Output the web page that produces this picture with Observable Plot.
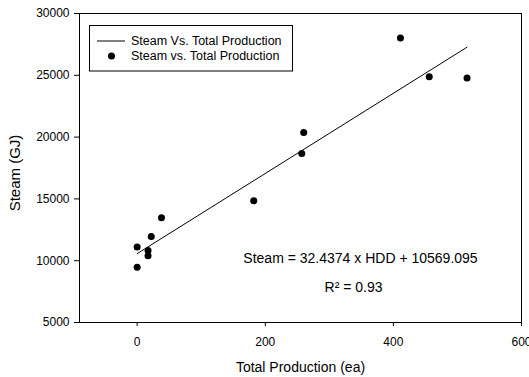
<!DOCTYPE html>
<html>
<head>
<meta charset="utf-8">
<script src="https://cdn.jsdelivr.net/npm/d3@7"></script>
<script src="https://cdn.jsdelivr.net/npm/@observablehq/plot@0.6"></script>
<style>
  html, body { margin: 0; padding: 0; background: white; }
  #chart { width: 529px; height: 377px; }
</style>
</head>
<body>
<div id="chart"></div>
<script>
// Data
const production = [0, 0, 17, 17, 22, 38, 182, 257, 260, 411, 456, 515];
const steam = [9480, 11100, 10830, 10400, 11960, 13480, 14850, 18680, 20380, 28020, 24890, 24780];
// Regression shown on the chart
const slope = 32.4374;
const intercept = 10569.095;
const fitRange = [0, 515];
// Axis ticks
const xTicks = [0, 200, 400, 600];
const yTicks = [5000, 10000, 15000, 20000, 25000, 30000];
// Texts
const xLabel = "Total Production (ea)";
const yLabel = "Steam (GJ)";
const eqLabel = "Steam = 32.4374 x HDD + 10569.095";
const r2Label = "R\u00B2 = 0.93";
const legendLabels = ["Steam Vs. Total Production", "Steam vs. Total Production"];

const points = production.map((p, i) => ({x: p, y: steam[i]}));
const fit = fitRange.map(x => ({x, y: slope * x + intercept}));

const font = "'Liberation Sans', Arial, sans-serif";

const chart = Plot.plot({
  width: 529,
  height: 377,
  marginLeft: 79,
  marginRight: 8,
  marginTop: 13,
  marginBottom: 55,
  style: {fontFamily: font, fontSize: "12px", color: "black", background: "white", overflow: "visible"},
  x: {domain: [-90, 600], ticks: xTicks, tickSize: 4, tickPadding: 11, label: null, tickFormat: d3.format("d")},
  y: {domain: [5000, 30000], ticks: yTicks, tickSize: 5, tickPadding: 5, label: null, tickFormat: d3.format("d")},
  marks: [
    Plot.frame({stroke: "black", strokeWidth: 1}),
    Plot.line(fit, {x: "x", y: "y", stroke: "black", strokeWidth: 1}),
    Plot.dot(points, {x: "x", y: "y", r: 3.5, fill: "black", stroke: "none"}),
    Plot.text([xLabel], {frameAnchor: "bottom", text: d => d, dy: 45, fontSize: 14, lineAnchor: "middle"}),
    Plot.text([yLabel], {frameAnchor: "left", text: d => d, dx: -64, dy: 5, rotate: -90, fontSize: 15, lineAnchor: "middle", textAnchor: "middle"}),
    Plot.text([eqLabel], {frameAnchor: "middle", text: d => d, dx: 60, dy: 91, fontSize: 14, lineAnchor: "middle"}),
    Plot.text([r2Label], {frameAnchor: "middle", text: d => d, dx: 53, dy: 120, fontSize: 14, lineAnchor: "middle"})
  ]
});

// Legend box inside the plot area
const svg = d3.select(chart);
const lg = svg.append("g").attr("font-family", font).attr("font-size", 12.5).attr("text-anchor", "start");
lg.append("rect").attr("x", 89.5).attr("y", 25.5).attr("width", 203).attr("height", 45.5)
  .attr("fill", "white").attr("stroke", "black").attr("stroke-width", 1);
lg.append("line").attr("x1", 97).attr("x2", 125).attr("y1", 41).attr("y2", 41)
  .attr("stroke", "black").attr("stroke-width", 1);
lg.append("circle").attr("cx", 111.5).attr("cy", 56).attr("r", 3.5).attr("fill", "black");
legendLabels.forEach((t, i) => {
  lg.append("text").attr("x", 131).attr("y", 41 + i * 15).attr("dy", "0.35em")
    .attr("text-anchor", "start").attr("fill", "black").text(t);
});

document.getElementById("chart").appendChild(chart);
</script>
</body>
</html>
